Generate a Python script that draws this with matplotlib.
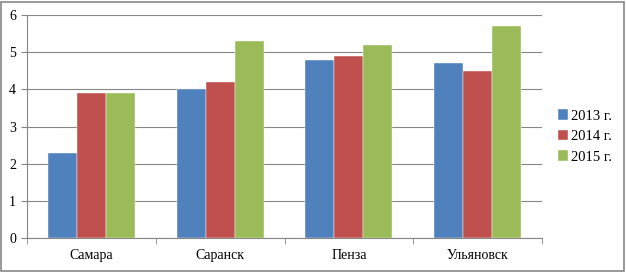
import numpy as np
import matplotlib
matplotlib.use('Agg')
import matplotlib.pyplot as plt
from matplotlib.patches import Rectangle

cities = ['Самара', 'Саранск', 'Пенза', 'Ульяновск']
years = ['2013 г.', '2014 г.', '2015 г.']
v2013 = [2.3, 4.0, 4.8, 4.7]
v2014 = [3.9, 4.2, 4.9, 4.5]
v2015 = [3.9, 5.3, 5.2, 5.7]
colors = ['#4F81BD', '#C0504D', '#9BBB59']

plt.rcParams['font.family'] = ['Liberation Serif', 'DejaVu Serif']

fig = plt.figure(figsize=(6.26, 2.72), dpi=100)
ax = fig.add_axes([27/626, 1 - 238/272, 515/626, 223/272])

x = np.arange(len(cities))
w = 0.225
for i, (vals, lab) in enumerate(zip([v2013, v2014, v2015], years)):
    ax.bar(x + (i - 1) * w, vals, w, color=colors[i], label=lab,
           edgecolor='white', linewidth=0.3, zorder=3)

ax.set_xlim(-0.5, len(cities) - 0.5)
ax.set_ylim(0, 6)
ax.set_yticks(range(7))
ax.yaxis.grid(True, color='#868686', linewidth=0.8, zorder=0)
ax.set_xticks(x)
ax.set_xticklabels(cities, fontsize=10)
ax.set_xticks(np.arange(-0.5, len(cities)), minor=True)
ax.tick_params(axis='x', which='major', length=0, pad=8)
ax.tick_params(axis='x', which='minor', length=4, color='#868686')
ax.tick_params(axis='y', length=4, color='#868686', labelsize=10, pad=4)
for s in ['top', 'right']:
    ax.spines[s].set_visible(False)
for s in ['left', 'bottom']:
    ax.spines[s].set_color('#868686')

ax.legend(loc='center left', bbox_to_anchor=(1.005, 0.455), frameon=False,
          fontsize=10.5, handlelength=0.7, handleheight=0.7, handletextpad=0.2,
          labelspacing=0.5)

fig.add_artist(Rectangle((0.002, 0.004), 0.995, 0.99, transform=fig.transFigure,
                         fill=False, edgecolor='#888888', linewidth=1.2))

fig.savefig('out.png', dpi=100)
